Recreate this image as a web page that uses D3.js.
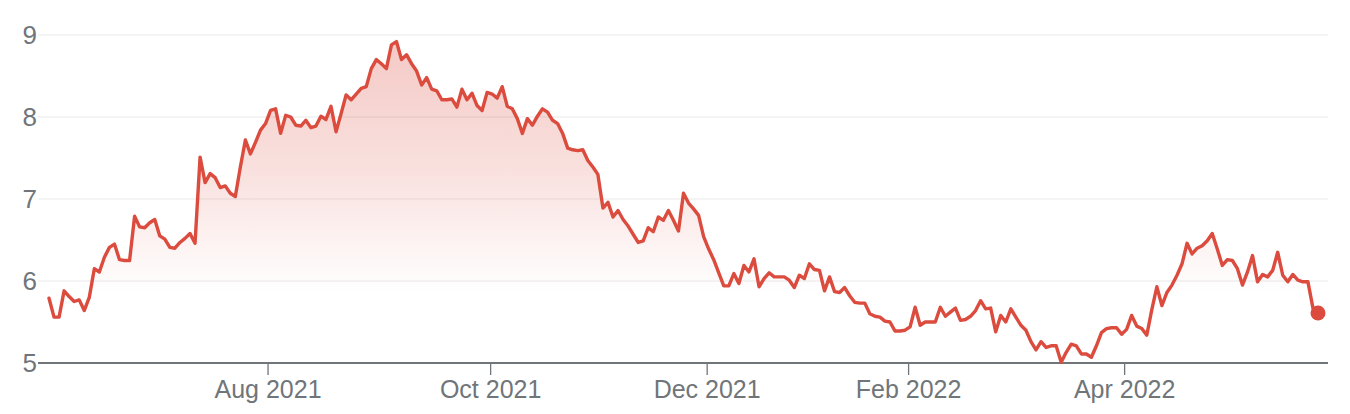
<!DOCTYPE html>
<html>
<head>
<meta charset="utf-8">
<script src="https://cdn.jsdelivr.net/npm/d3@7"></script>
<style>
  html, body { margin: 0; padding: 0; background: #fff; }
  svg { display: block; }
  text { font-family: "Liberation Sans", Arial, sans-serif; fill: #70757a; }
</style>
</head>
<body>
<script>
// daily closes, one per trading day
const prices = [
  5.79, 5.56, 5.56, 5.88, 5.81, 5.75, 5.77, 5.64, 5.80, 6.15,
  6.11, 6.29, 6.41, 6.45, 6.26, 6.25, 6.25, 6.79, 6.66, 6.65,
  6.71, 6.75, 6.55, 6.51, 6.41, 6.40, 6.47, 6.52, 6.58, 6.46,
  7.51, 7.20, 7.31, 7.26, 7.14, 7.16, 7.07, 7.03, 7.39, 7.72,
  7.55, 7.69, 7.84,
  7.92, 8.08, 8.10, 7.80, 8.02, 8.00, 7.90, 7.89, 7.96, 7.87,
  7.89, 8.01, 7.97, 8.13, 7.82, 8.04, 8.27, 8.21, 8.28, 8.35,
  8.37, 8.59, 8.70, 8.65, 8.59, 8.88, 8.92, 8.70, 8.76, 8.65,
  8.56, 8.39, 8.48, 8.34, 8.32, 8.21, 8.21, 8.22, 8.12, 8.34,
  8.21, 8.29, 8.14,
  8.08, 8.30, 8.28, 8.23, 8.37, 8.13, 8.10, 7.98, 7.80, 7.98,
  7.90, 8.01, 8.10, 8.06, 7.96, 7.92, 7.80, 7.62, 7.60, 7.59,
  7.60, 7.47, 7.39, 7.30, 6.89, 6.96, 6.78, 6.86, 6.75, 6.67,
  6.57, 6.47, 6.49, 6.65, 6.60, 6.78, 6.74, 6.86, 6.74, 6.61,
  7.07, 6.95, 6.88, 6.80,
  6.54, 6.39, 6.26, 6.10, 5.94, 5.94, 6.09, 5.97, 6.19, 6.11,
  6.27, 5.93, 6.03, 6.10, 6.05, 6.05, 6.05, 6.01, 5.92, 6.07,
  6.03, 6.21, 6.14, 6.13, 5.88, 6.05, 5.87, 5.86, 5.92, 5.82,
  5.74, 5.73, 5.73, 5.60, 5.57, 5.56, 5.51, 5.50, 5.39, 5.39,
  5.40, 5.44, 5.68, 5.46,
  5.50, 5.50, 5.50, 5.68, 5.57, 5.62, 5.67, 5.52, 5.53, 5.57,
  5.64, 5.76, 5.66, 5.67, 5.38, 5.58, 5.50, 5.66, 5.56, 5.46,
  5.40, 5.26, 5.16, 5.26, 5.19, 5.21, 5.21, 5.01, 5.13, 5.23,
  5.21, 5.11, 5.11, 5.07, 5.21, 5.37, 5.42, 5.43, 5.43, 5.35,
  5.41, 5.58, 5.45,
  5.42, 5.34, 5.65, 5.93, 5.70, 5.86, 5.95, 6.07, 6.21, 6.46,
  6.33, 6.40, 6.43, 6.49, 6.58, 6.39, 6.19, 6.26, 6.25, 6.15,
  5.95, 6.11, 6.31, 5.99, 6.08, 6.05, 6.13, 6.35, 6.07, 5.99,
  6.08, 6.01, 5.99, 5.99, 5.67, 5.61
];

// month ticks, given as position in the trading-day sequence
const monthTickIndex = [43.4, 87.6, 130.6, 170.6, 213.5];
const monthTickLabels = ['Aug 2021', 'Oct 2021', 'Dec 2021', 'Feb 2022', 'Apr 2022'];

const priceTicks = [5, 6, 7, 8, 9];

const width = 1350;
const height = 414;
const lineColor = '#db4c3f';

const svg = d3.select('body')
  .append('svg')
  .attr('width', width)
  .attr('height', height);

const xScale = d3.scaleLinear()
  .domain([0, prices.length - 1])
  .range([49, 1318]);

const yScale = d3.scaleLinear()
  .domain([5, 9])
  .range([363, 35]);

const gridLeft = 38;
const gridRight = 1328;

// gradient under the line
const defs = svg.append('defs');
const grad = defs.append('linearGradient')
  .attr('id', 'fade')
  .attr('gradientUnits', 'userSpaceOnUse')
  .attr('x1', 0).attr('x2', 0)
  .attr('y1', yScale(d3.max(prices)))
  .attr('y2', yScale(5));
grad.append('stop').attr('offset', 0).attr('stop-color', lineColor).attr('stop-opacity', 0.3);
grad.append('stop').attr('offset', 0.4).attr('stop-color', lineColor).attr('stop-opacity', 0.17);
grad.append('stop').attr('offset', 0.78).attr('stop-color', lineColor).attr('stop-opacity', 0);

// horizontal grid
svg.append('g')
  .selectAll('line')
  .data(priceTicks.filter(d => d > 5))
  .enter().append('line')
  .attr('x1', gridLeft)
  .attr('x2', gridRight)
  .attr('y1', d => yScale(d))
  .attr('y2', d => yScale(d))
  .attr('stroke', '#f1f1f1')
  .attr('stroke-width', 1.5);

// y labels
svg.append('g')
  .selectAll('text')
  .data(priceTicks)
  .enter().append('text')
  .attr('x', 37)
  .attr('y', d => yScale(d))
  .attr('dy', '0.36em')
  .attr('text-anchor', 'end')
  .style('font-size', '26px')
  .text(d => d);

const area = d3.area()
  .x((d, i) => xScale(i))
  .y0(yScale(5))
  .y1(d => yScale(d));

const line = d3.line()
  .x((d, i) => xScale(i))
  .y(d => yScale(d));

svg.append('path')
  .datum(prices)
  .attr('d', area)
  .attr('fill', 'url(#fade)');

// x axis
const xAxis = d3.axisBottom(xScale)
  .tickValues(monthTickIndex)
  .tickFormat((d, i) => monthTickLabels[i])
  .tickSize(12)
  .tickSizeOuter(0)
  .tickPadding(5);

const axisG = svg.append('g')
  .attr('transform', `translate(0, ${yScale(5)})`)
  .call(xAxis);

axisG.select('.domain')
  .attr('d', `M${gridLeft},0H${gridRight}`)
  .attr('stroke', '#70757a')
  .attr('stroke-width', 2);
axisG.selectAll('.tick line')
  .attr('stroke', '#70757a')
  .attr('stroke-width', 1.3);
axisG.selectAll('.tick text')
  .attr('fill', '#70757a')
  .style('font-size', '25px')
  .style('font-family', '"Liberation Sans", Arial, sans-serif');

svg.append('path')
  .datum(prices)
  .attr('d', line)
  .attr('fill', 'none')
  .attr('stroke', lineColor)
  .attr('stroke-width', 3.4)
  .attr('stroke-linejoin', 'round')
  .attr('stroke-linecap', 'round');

// last price marker
svg.append('circle')
  .attr('cx', xScale(prices.length - 1))
  .attr('cy', yScale(prices[prices.length - 1]))
  .attr('r', 7.5)
  .attr('fill', lineColor);
</script>
</body>
</html>
